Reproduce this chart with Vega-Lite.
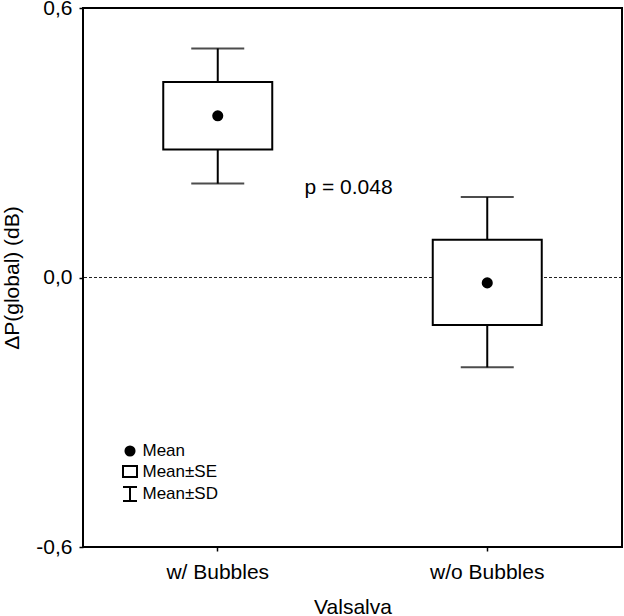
{
  "$schema": "https://vega.github.io/schema/vega-lite/v6.json",
  "autosize": {"type": "none"},
  "padding": {"left": 83, "top": 8, "right": 2, "bottom": 69},
  "width": 539,
  "height": 539,
  "background": "white",
  "config": {
    "view": {"stroke": "black", "strokeWidth": 2},
    "font": "Liberation Sans",
    "axis": {"grid": false, "domain": false, "labelFont": "Liberation Sans", "titleFont": "Liberation Sans", "labelColor": "black", "titleColor": "black", "tickColor": "black", "titleFontWeight": "normal"},
    "legend": {"title": null, "orient": "none", "legendX": 38.5, "legendY": 434.5, "padding": 0, "labelFontSize": 17, "labelFont": "Liberation Sans", "labelColor": "black", "labelOffset": 4, "rowPadding": 0.5, "symbolSize": 196, "symbolStrokeWidth": 2}
  },
  "datasets": {
    "stats": [
      {"group": "w/ Bubbles", "mean": 0.360, "se_lo": 0.285, "se_hi": 0.435, "sd_lo": 0.209, "sd_hi": 0.510},
      {"group": "w/o Bubbles", "mean": -0.012, "se_lo": -0.106, "se_hi": 0.084, "sd_lo": -0.200, "sd_hi": 0.179}
    ],
    "note": [
      {"group": "w/ Bubbles", "label": "p = 0.048", "y": 0.199}
    ]
  },
  "data": {"name": "stats"},
  "encoding": {
    "x": {
      "field": "group", "type": "nominal",
      "scale": {"type": "band", "paddingInner": 0, "paddingOuter": 0},
      "axis": {"title": "Valsalva", "labelAngle": 0, "labelFontSize": 21, "titleFontSize": 21, "tickSize": 4, "tickWidth": 1.5, "labelPadding": 10, "titlePadding": 14}
    }
  },
  "layer": [
    {
      "mark": {"type": "rule", "color": "#222222", "strokeWidth": 1, "strokeDash": [3, 2]},
      "encoding": {"x": null, "y": {"datum": 0, "type": "quantitative"}}
    },
    {
      "mark": {"type": "rule", "color": "black", "strokeWidth": 2},
      "encoding": {
        "y": {
          "field": "sd_lo", "type": "quantitative",
          "scale": {"domain": [-0.6, 0.6], "nice": false, "zero": false},
          "axis": {
            "title": "ΔP(global) (dB)", "values": [-0.6, 0, 0.6],
            "labelExpr": "replace(replace(format(datum.value, '.1f'), '.', ','), '−', '-')",
            "labelFontSize": 21, "titleFontSize": 21, "tickSize": 4, "tickWidth": 1.5, "labelPadding": 7, "titlePadding": 13
          }
        },
        "y2": {"field": "sd_hi"}
      }
    },
    {
      "mark": {"type": "bar", "width": 109, "fill": "white", "stroke": "black", "strokeWidth": 2},
      "encoding": {"y": {"field": "se_lo", "type": "quantitative"}, "y2": {"field": "se_hi"}}
    },
    {
      "mark": {"type": "tick", "size": 53, "thickness": 2, "color": "black"},
      "encoding": {"y": {"field": "sd_lo", "type": "quantitative"}}
    },
    {
      "mark": {"type": "tick", "size": 53, "thickness": 2, "color": "black"},
      "encoding": {"y": {"field": "sd_hi", "type": "quantitative"}}
    },
    {
      "mark": {"type": "point", "filled": true, "size": 196, "stroke": "black", "strokeWidth": 2, "opacity": 1},
      "encoding": {
        "y": {"field": "mean", "type": "quantitative"},
        "shape": {
          "datum": "Mean", "type": "nominal",
          "scale": {"domain": ["Mean", "Mean±SE", "Mean±SD"], "range": ["M-0.65,0A0.65,0.65 0 1,0 0.65,0A0.65,0.65 0 1,0 -0.65,0Z", "M-1,-0.8H1V0.8H-1Z", "M-1,-1H1M0,-1V1M-1,1H1"]}
        },
        "fill": {
          "datum": "Mean", "type": "nominal",
          "scale": {"domain": ["Mean", "Mean±SE", "Mean±SD"], "range": ["black", "white", "white"]}
        }
      }
    },
    {
      "data": {"name": "note"},
      "mark": {"type": "text", "fontSize": 21, "font": "Liberation Sans", "fontWeight": "normal", "color": "black", "align": "center", "baseline": "middle", "dx": -4},
      "encoding": {
        "x": {"field": "group", "type": "nominal", "bandPosition": 1},
        "y": {"field": "y", "type": "quantitative"},
        "text": {"field": "label"}
      }
    }
  ]
}
